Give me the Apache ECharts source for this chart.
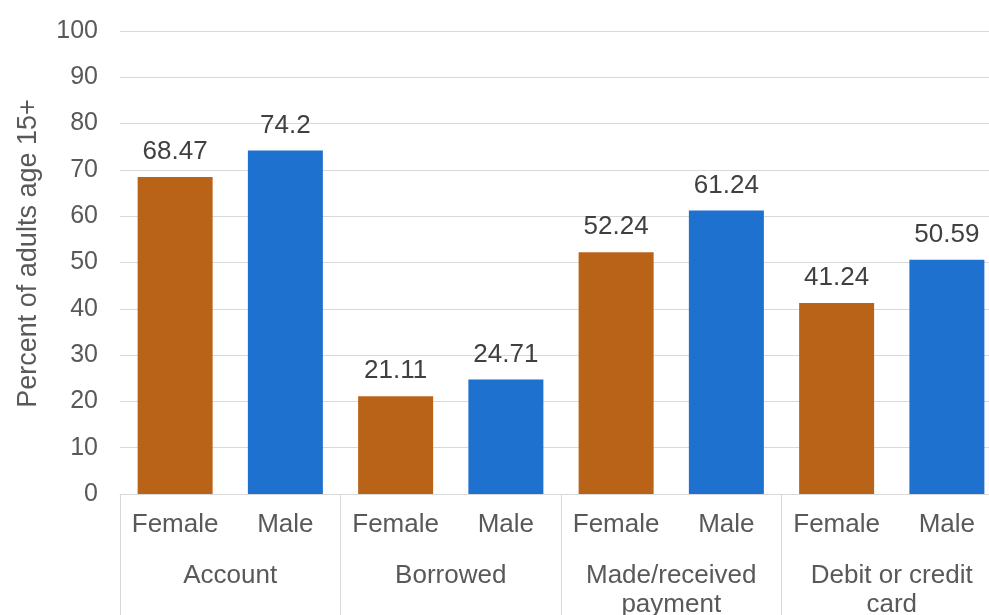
<!DOCTYPE html>
<html style="height: 100%">
<head>
    <meta charset="UTF-8">
    <title>Account ownership by gender</title>
</head>
<body style="height: 100%; margin: 0; background: #fff">
<div id="container" style="width: 989px; height: 615px"></div>

<script type="text/javascript" src="https://cdn.jsdelivr.net/npm/echarts@6/dist/echarts.min.js"></script>
<script type="text/javascript">
    var groups = ['Account', 'Borrowed', 'Made/received\npayment', 'Debit or credit\ncard'];
    var genders = ['Female', 'Male'];
    var female = [68.47, 21.11, 52.24, 41.24];
    var male = [74.2, 24.71, 61.24, 50.59];
    var yTicks = [0, 10, 20, 30, 40, 50, 60, 70, 80, 90, 100];

    var colors = {Female: '#B96319', Male: '#1F71CF'};
    var FONT = 'Liberation Sans';

    // flatten groups -> Female/Male pairs on the inner axis
    var cats = [];
    var values = [];
    groups.forEach(function (g, i) {
        cats.push(genders[0]);
        values.push({value: female[i], itemStyle: {color: colors.Female}});
        cats.push(genders[1]);
        values.push({value: male[i], itemStyle: {color: colors.Male}});
    });

    var dom = document.getElementById('container');
    var myChart = echarts.init(dom);

    var option = {
        backgroundColor: '#fff',
        animation: false,
        textStyle: {fontFamily: FONT},
        grid: {left: 120, top: 31, right: -13, bottom: 121,
            containLabel: false, outerBoundsMode: 'none'},
        xAxis: [
            {
                type: 'category',
                data: cats,
                position: 'bottom',
                axisLine: {show: true, lineStyle: {color: '#d9d9d9', width: 1}},
                axisTick: {show: false},
                axisLabel: {
                    color: '#595959', fontSize: 26, fontFamily: FONT,
                    margin: 18, interval: 0
                }
            },
            {
                type: 'category',
                data: groups,
                position: 'bottom',
                offset: 0,
                axisLine: {show: false},
                axisTick: {show: true, interval: 0, length: 130,
                    lineStyle: {color: '#d9d9d9', width: 1}},
                axisLabel: {
                    color: '#595959', fontSize: 26, fontFamily: FONT,
                    margin: 67, lineHeight: 29, interval: 0
                }
            }
        ],
        yAxis: {
            type: 'value',
            min: yTicks[0],
            max: yTicks[yTicks.length - 1],
            interval: 10,
            name: 'Percent of adults age 15+',
            nameLocation: 'middle',
            nameGap: 78,
            nameTextStyle: {color: '#595959', fontSize: 27, fontFamily: FONT,
                padding: [0, 0, 0, 18]},
            axisLine: {show: false},
            axisTick: {show: false},
            axisLabel: {color: '#595959', fontSize: 25, fontFamily: FONT, margin: 22},
            splitLine: {lineStyle: {color: '#d9d9d9', width: 1}}
        },
        series: [
            {
                type: 'bar',
                xAxisIndex: 0,
                data: values,
                barWidth: 75,
                label: {
                    show: true,
                    position: 'top',
                    distance: 12,
                    color: '#404040',
                    fontSize: 26,
                    fontFamily: FONT,
                    formatter: function (p) { return String(p.value); }
                }
            }
        ]
    };

    myChart.setOption(option);
</script>
</body>
</html>
